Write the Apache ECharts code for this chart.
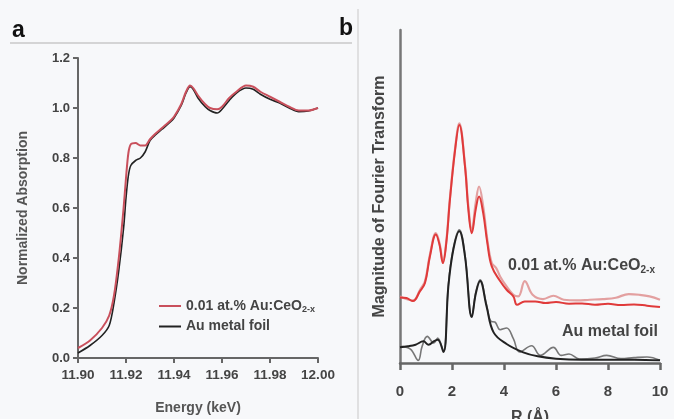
<!DOCTYPE html>
<html>
<head>
<meta charset="utf-8">
<script src="https://cdn.jsdelivr.net/npm/echarts@6/dist/echarts.min.js"></script>
<style>
html,body{margin:0;padding:0;background:#f7f8fa;}
#c{width:674px;height:419px;}
</style>
</head>
<body>
<div id="c"></div>
<script>
// ---- Panel a: XANES ----
const energy = [11.900,11.905,11.910,11.913,11.915,11.917,11.919,11.920,11.921,11.922,11.924,11.926,11.928,11.930,11.932,11.935,11.938,11.940,11.943,11.945,11.9467,11.948,11.950,11.953,11.955,11.958,11.960,11.963,11.966,11.970,11.973,11.976,11.980,11.984,11.988,11.992,11.996,12.000];
const xanesSample = [0.04,0.07,0.12,0.17,0.25,0.40,0.60,0.72,0.82,0.855,0.86,0.85,0.85,0.875,0.895,0.92,0.945,0.965,1.015,1.065,1.09,1.08,1.05,1.015,1.0,0.995,1.005,1.04,1.065,1.09,1.085,1.065,1.045,1.025,1.005,0.99,0.99,1.0];
const xanesFoil = [0.02,0.05,0.09,0.13,0.22,0.35,0.52,0.64,0.73,0.77,0.79,0.80,0.825,0.87,0.89,0.915,0.94,0.96,1.01,1.06,1.085,1.075,1.04,1.005,0.99,0.98,0.995,1.03,1.06,1.08,1.075,1.055,1.035,1.02,1.0,0.985,0.988,1.0];
const xTicksA = [11.90,11.92,11.94,11.96,11.98,12.00];
const yTicksA = [0.0,0.2,0.4,0.6,0.8,1.0,1.2];

// ---- Panel b: Fourier transform magnitude (arbitrary units, offset) ----
const rSample = [0,0.25,0.5,0.77,0.96,1.15,1.38,1.52,1.65,1.78,1.92,2.12,2.28,2.5,2.63,2.76,2.91,3.04,3.2,3.36,3.53,3.85,4.1,4.36,4.5,4.8,5.2,5.6,6.0,6.5,7.0,7.5,8.0,8.5,9.0,9.5,10];
const ftSample = [19.7,19.5,18.6,21.6,24,32,38.6,35.5,30,36,49,64,71.5,59,46,39,46,50,45,36,29,24.6,22,20,17.5,18.5,18.5,18,18.3,17.8,17.9,17.5,17.8,17.4,17.6,17.2,16.8];
const rSampleFit = [0,0.5,0.77,0.96,1.15,1.38,1.52,1.65,1.78,1.92,2.12,2.28,2.5,2.63,2.76,2.91,3.04,3.2,3.36,3.53,3.7,3.85,4.1,4.36,4.55,4.8,5.1,5.5,5.9,6.3,6.8,7.3,7.8,8.3,8.8,9.2,9.6,10];
const ftSampleFit = [20,18.8,22,24.5,32.5,39,36,30.5,36.5,49.5,64.5,72,59.5,47,40,48,53,47,37,30,28.5,26,23,20.5,20,24.6,20.5,19.2,20.2,19,18.8,19,19.2,19.6,20.7,20.5,20,19];
const rFoil = [0,0.3,0.6,0.9,1.1,1.3,1.45,1.67,1.86,2.05,2.28,2.5,2.76,2.92,3.08,3.33,3.6,4.1,4.74,5.3,6,7,8,9,10];
const ftFoil = [4.7,5,5.5,6.5,5.5,6.5,7,3.3,23,34,39.6,32,13.8,21,24.6,17,9.2,5.7,3.2,2,1.3,1,1,1,0.8];
const rFoilFit = [0,0.4,0.7,0.85,1.05,1.3,1.45,1.67,1.86,2.05,2.28,2.5,2.76,2.92,3.08,3.33,3.5,3.65,3.85,4.1,4.36,4.6,5.06,5.4,5.9,6.2,6.5,6.9,7.5,7.95,8.5,9.0,9.5,10];
const ftFoilFit = [5,4.2,0.8,5,8,6,7.5,3.5,23.5,34.5,40,32.5,14,21.5,25,17.5,12.5,12.3,10,10.5,7.3,3.3,5.2,2.3,4.7,2.3,2.7,1.2,1.5,2.3,1.3,1.6,1.8,0.8];
const xTicksB = [0,2,4,6,8,10];

const zip = (xs, ys) => xs.map((x, i) => [x, ys[i]]);
const FONT = '"Liberation Sans", Arial, sans-serif';

const chart = echarts.init(document.getElementById('c'));
chart.setOption({
  backgroundColor: '#f7f8fa',
  animation: false,
  textStyle: { fontFamily: FONT },
  grid: [
    { left: 78, right: 356, top: 58, bottom: 61, containLabel: false, outerBoundsMode: 'none' },
    { left: 400, right: 14, top: 30, bottom: 56, containLabel: false, outerBoundsMode: 'none' }
  ],
  xAxis: [
    {
      gridIndex: 0, type: 'value', min: xTicksA[0], max: xTicksA[xTicksA.length-1], interval: 0.02,
      name: 'Energy (keV)', nameLocation: 'middle', nameGap: 43,
      nameTextStyle: { color: '#555', fontSize: 14, fontWeight: 'bold', fontFamily: FONT },
      axisLine: { lineStyle: { color: '#666', width: 2 } },
      axisTick: { length: 5, lineStyle: { color: '#666', width: 2 } },
      axisLabel: { color: '#444', fontSize: 13.5, fontWeight: 'bold', margin: 10, formatter: v => v.toFixed(2) },
      splitLine: { show: false }
    },
    {
      gridIndex: 1, type: 'value', min: 0, max: 10, interval: 2,
      name: 'R (Å)', nameLocation: 'middle', nameGap: 47,
      nameTextStyle: { color: '#444', fontSize: 16, fontWeight: 'bold', fontFamily: FONT },
      axisLine: { lineStyle: { color: '#666', width: 2.5 } },
      axisTick: { length: 7, lineStyle: { color: '#666', width: 2.5 } },
      axisLabel: { color: '#444', fontSize: 15, fontWeight: 'bold', margin: 21 },
      splitLine: { show: false }
    }
  ],
  yAxis: [
    {
      gridIndex: 0, type: 'value', min: 0, max: 1.2, interval: 0.2,
      name: 'Normalized Absorption', nameLocation: 'middle', nameGap: 48,
      nameTextStyle: { color: '#555', fontSize: 14, fontWeight: 'bold', fontFamily: FONT },
      axisLine: { show: true, lineStyle: { color: '#666', width: 2 } },
      axisTick: { show: true, length: 5, lineStyle: { color: '#666', width: 2 } },
      axisLabel: { color: '#444', fontSize: 13, fontWeight: 'bold', margin: 8, formatter: v => v.toFixed(1) },
      splitLine: { show: false }
    },
    {
      gridIndex: 1, type: 'value', min: 0, max: 100,
      name: 'Magnitude of Fourier Transform', nameLocation: 'middle', nameGap: 12,
      nameTextStyle: { color: '#444', fontSize: 16, fontWeight: 'bold', fontFamily: FONT },
      axisLine: { show: true, lineStyle: { color: '#777', width: 2.5 } },
      axisTick: { show: false },
      axisLabel: { show: false },
      splitLine: { show: false }
    }
  ],
  legend: {
    data: ['0.01 at.% Au:CeO2-x', 'Au metal foil'],
    orient: 'vertical', left: 154, top: 294, itemGap: 5,
    itemWidth: 22, itemHeight: 2, icon: 'rect',
    formatter: n => n === 'Au metal foil' ? n : '0.01 at.% Au:CeO{s|2-x}',
    textStyle: { color: '#444', fontSize: 14, fontWeight: 'bold', fontFamily: FONT,
      rich: { s: { fontSize: 9, fontWeight: 'bold', color: '#444', padding: [8, 0, 0, 0] } } }
  },
  series: [
    { name: 'Au metal foil', type: 'line', xAxisIndex: 0, yAxisIndex: 0, data: zip(energy, xanesFoil),
      smooth: 0.3, showSymbol: false, lineStyle: { color: '#222', width: 1.6 }, itemStyle: { color: '#222' } },
    { name: '0.01 at.% Au:CeO2-x', type: 'line', xAxisIndex: 0, yAxisIndex: 0, data: zip(energy, xanesSample),
      smooth: 0.3, showSymbol: false, lineStyle: { color: '#c9505c', width: 2 }, itemStyle: { color: '#c9505c' } },
    { name: 'foil fit', type: 'line', xAxisIndex: 1, yAxisIndex: 1, data: zip(rFoilFit, ftFoilFit),
      smooth: 0.4, showSymbol: false, lineStyle: { color: '#777', width: 1.6 } },
    { name: 'foil data', type: 'line', xAxisIndex: 1, yAxisIndex: 1, data: zip(rFoil, ftFoil),
      smooth: 0.4, showSymbol: false, lineStyle: { color: '#222', width: 2 } },
    { name: 'sample fit', type: 'line', xAxisIndex: 1, yAxisIndex: 1, data: zip(rSampleFit, ftSampleFit),
      smooth: 0.4, showSymbol: false, lineStyle: { color: '#e3a0a0', width: 2.2 } },
    { name: 'sample data', type: 'line', xAxisIndex: 1, yAxisIndex: 1, data: zip(rSample, ftSample),
      smooth: 0.4, showSymbol: false, lineStyle: { color: '#e03a3a', width: 2 } }
  ],
  graphic: [
    { type: 'line', shape: { x1: 10, y1: 43, x2: 352, y2: 43 }, style: { stroke: '#c8c8c8', lineWidth: 1.5 } },
    { type: 'line', shape: { x1: 358, y1: 9, x2: 358, y2: 419 }, style: { stroke: '#d8d8d8', lineWidth: 1.5 } },
    { type: 'text', x: 12, y: 42, style: { text: 'a', font: 'bold 23px ' + FONT, fill: '#111', verticalAlign: 'bottom' } },
    { type: 'text', x: 339, y: 40, style: { text: 'b', font: 'bold 23px ' + FONT, fill: '#111', verticalAlign: 'bottom' } },
    { type: 'text', left: 508, top: 258, style: {
        text: '0.01 at.% Au:CeO{s|2-x}', font: 'bold 16px ' + FONT, fill: '#444',
        rich: { s: { fontSize: 10, fontWeight: 'bold', fill: '#444', padding: [9, 0, 0, 0] } } } },
    { type: 'text', left: 562, top: 324, style: { text: 'Au metal foil', font: 'bold 16px ' + FONT, fill: '#444' } }
  ]
});
</script>
</body>
</html>
